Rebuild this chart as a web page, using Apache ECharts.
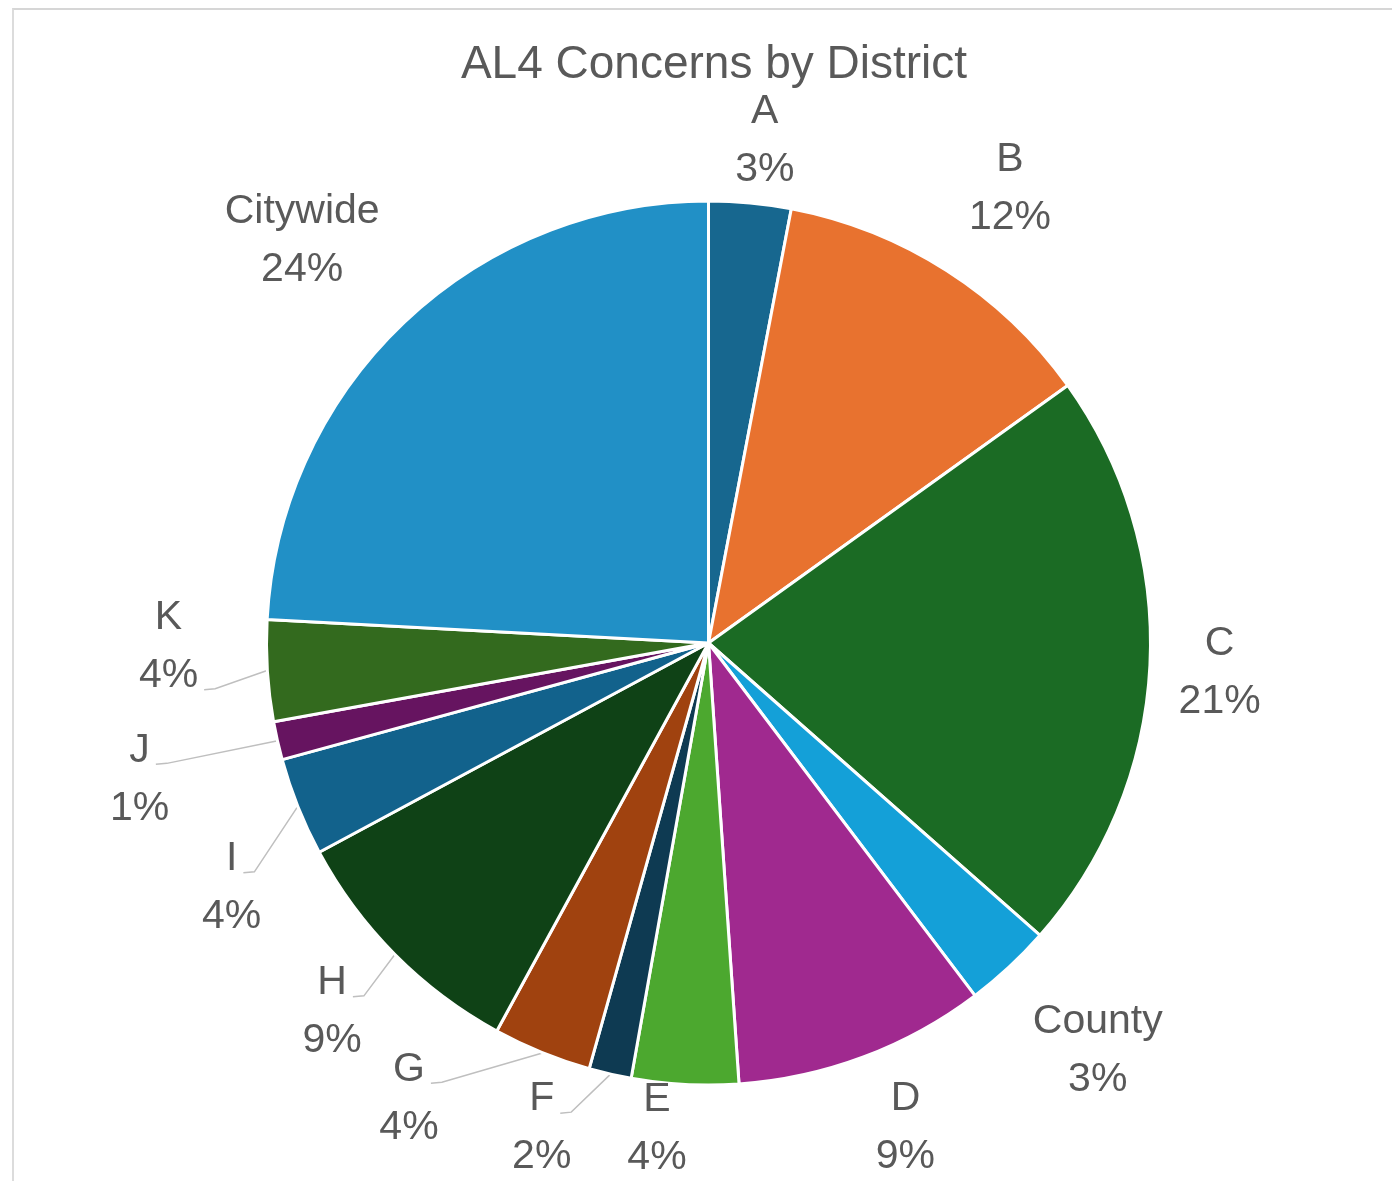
<!DOCTYPE html>
<html>
<head>
<meta charset="utf-8">
<script src="https://cdn.jsdelivr.net/npm/echarts@6/dist/echarts.min.js"></script>
<style>
html,body{margin:0;padding:0;background:#ffffff;overflow:hidden;}
#frame{position:absolute;left:12px;top:8px;width:1400px;height:1200px;border-top:2px solid #d6d6d6;border-left:2px solid #dcdcdc;box-sizing:border-box;}
#chart{position:absolute;left:0;top:0;width:1392px;height:1181px;}
</style>
</head>
<body>
<div id="frame"></div>
<div id="chart"></div>
<script>
// ---- data ----
const titleText = 'AL4 Concerns by District';
const categories = ['A', 'B', 'C', 'County', 'D', 'E', 'F', 'G', 'H', 'I', 'J', 'K', 'Citywide'];
const shares = [3.0, 12.1, 21.4, 3.2, 9.2, 3.9, 1.55, 3.6, 9.2, 3.6, 1.4, 3.7, 24.15];

// ---- styles ----
const colors = ['#17678F', '#E8722F', '#1B6B24', '#14A0D8', '#A0298F', '#4CA82F',
                '#0E3A52', '#A0420F', '#0F4216', '#12628C', '#661460', '#336A1E', '#2190C6'];
// label placement: [angle shift (deg), distance beyond the pie radius (px)]
const labelPlacement = [[1.0, 63], [1.0, 103], [0.5, 70], [-0.8, 122], [-1.6, 81], [3.0, 46],
                        [6.1, 71], [11.2, 103], [0.4, 85], [-5.4, 94], [-0.7, 143], [3.2, 98], [-1.8, 130]];
// slices whose label has a leader line, and which text row the line points to
const leaderRow = { F: 0, G: 0, H: 0, I: 0, J: 0, K: 1 };

const FONT = '"Liberation Sans", Arial, sans-serif';
const FS = 41, LH = 58;
const CX = 708.5, CY = 643, R = 442;

const total = shares.reduce((a, b) => a + b, 0);
const mids = [];
let acc = 0;
shares.forEach(v => { mids.push((acc + v / 2) / total * 360); acc += v; });
const pctText = shares.map(v => Math.round(v / total * 100) + '%');

const ctx = document.createElement('canvas').getContext('2d');
ctx.font = FS + 'px ' + FONT;

const chart = echarts.init(document.getElementById('chart'), null, { renderer: 'canvas' });
chart.setOption({
  animation: false,
  backgroundColor: 'transparent',
  title: {
    text: titleText,
    left: 709,
    textAlign: 'center',
    top: 37,
    textStyle: { fontFamily: FONT, fontSize: 46, fontWeight: 'normal', color: '#595959' }
  },
  series: [{
    type: 'pie',
    center: [CX, CY],
    radius: R,
    startAngle: 90,
    clockwise: true,
    avoidLabelOverlap: false,
    itemStyle: { borderColor: '#ffffff', borderWidth: 3 },
    label: {
      show: true,
      position: 'outside',
      fontFamily: FONT,
      fontSize: FS,
      lineHeight: LH,
      color: '#595959',
      formatter: p => p.name + '\n' + pctText[p.dataIndex]
    },
    labelLine: { show: true, lineStyle: { color: '#bfbfbf', width: 1.5 } },
    emphasis: { disabled: true },
    data: categories.map((c, i) => ({
      name: c,
      value: shares[i],
      itemStyle: { color: colors[i] },
      labelLine: { show: leaderRow[c] !== undefined }
    })),
    labelLayout: function (p) {
      const i = p.dataIndex;
      const pl = labelPlacement[i];
      const a = (mids[i] + pl[0]) * Math.PI / 180;
      const x = CX + Math.sin(a) * (R + pl[1]);
      const y = CY - Math.cos(a) * (R + pl[1]);
      const res = { x: x, y: y, align: 'center', verticalAlign: 'middle' };
      const row = leaderRow[categories[i]];
      if (row !== undefined) {
        const m = mids[i] * Math.PI / 180;
        const sx = CX + Math.sin(m) * (R + 1), sy = CY - Math.cos(m) * (R + 1);
        const txt = row === 0 ? categories[i] : pctText[i];
        const w = ctx.measureText(txt).width;
        const rowC = row === 0 ? y - LH / 2 : y + LH / 2;
        const ex = x + w / 2 + 6, ey = rowC + 14;
        res.labelLinePoints = [[sx, sy], [ex + 11, ey - 1], [ex, ey]];
      }
      return res;
    }
  }]
});
</script>
</body>
</html>
